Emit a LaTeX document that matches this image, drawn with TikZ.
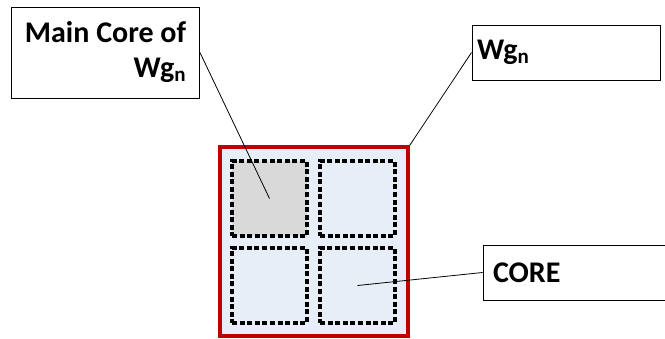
\documentclass[tikz,border=0pt]{standalone}
\usepackage{fontspec}
\setmainfont{Carlito}
\definecolor{wgred}{HTML}{C00000}
\definecolor{wgfill}{HTML}{E8EEF8}
\definecolor{maingray}{HTML}{D9D9D9}
\begin{document}
\begin{tikzpicture}[x=1pt,y=-1pt,
  callout/.style={draw=black, line width=0.9pt, fill=white, rectangle,
    font=\fontsize{30}{35}\selectfont\bfseries, inner sep=0pt},
  corebox/.style={draw=black, line width=3.6pt, dash pattern=on 5pt off 2.6pt,
    rectangle, minimum width=75pt, minimum height=75pt, inner sep=0pt},
  leader/.style={draw=black, line width=0.8pt}]
  \clip (0,0) rectangle (665,338);
  \fill[white] (0,0) rectangle (665,338);

  % workgroup outline
  \node[draw=wgred, fill=wgfill, line width=3.6pt, rectangle, minimum width=188pt,
    minimum height=189pt, inner sep=0pt] (wg) at (314,241.5) {};

  % four cores
  \node[corebox, fill=maingray] (tl) at (269.5,198.5) {};
  \node[corebox] (tr) at (357.5,198.5) {};
  \node[corebox] (bl) at (269.5,285.5) {};
  \node[corebox] (br) at (357.5,285.5) {};

  % labels
  \node[callout, minimum width=188pt, minimum height=91pt,
    align=right] (mainlbl) at (105.5,52.5) {Main Core of\\Wg\textsubscript{n}};
  \node[callout, minimum width=188pt, minimum height=55pt, text width=178pt,
    align=left] (wglbl) at (566,52.5) {Wg\textsubscript{n}};
  \node[callout, minimum width=200pt, minimum height=55pt, text width=180pt,
    align=left] (corelbl) at (583,272.5) {CORE};

  % leader lines
  \draw[leader] (mainlbl.east) -- (tl.center);
  \draw[leader] (wglbl.west) -- (wg.north east);
  \draw[leader] (corelbl.west) -- (br.center);
\end{tikzpicture}
\end{document}
